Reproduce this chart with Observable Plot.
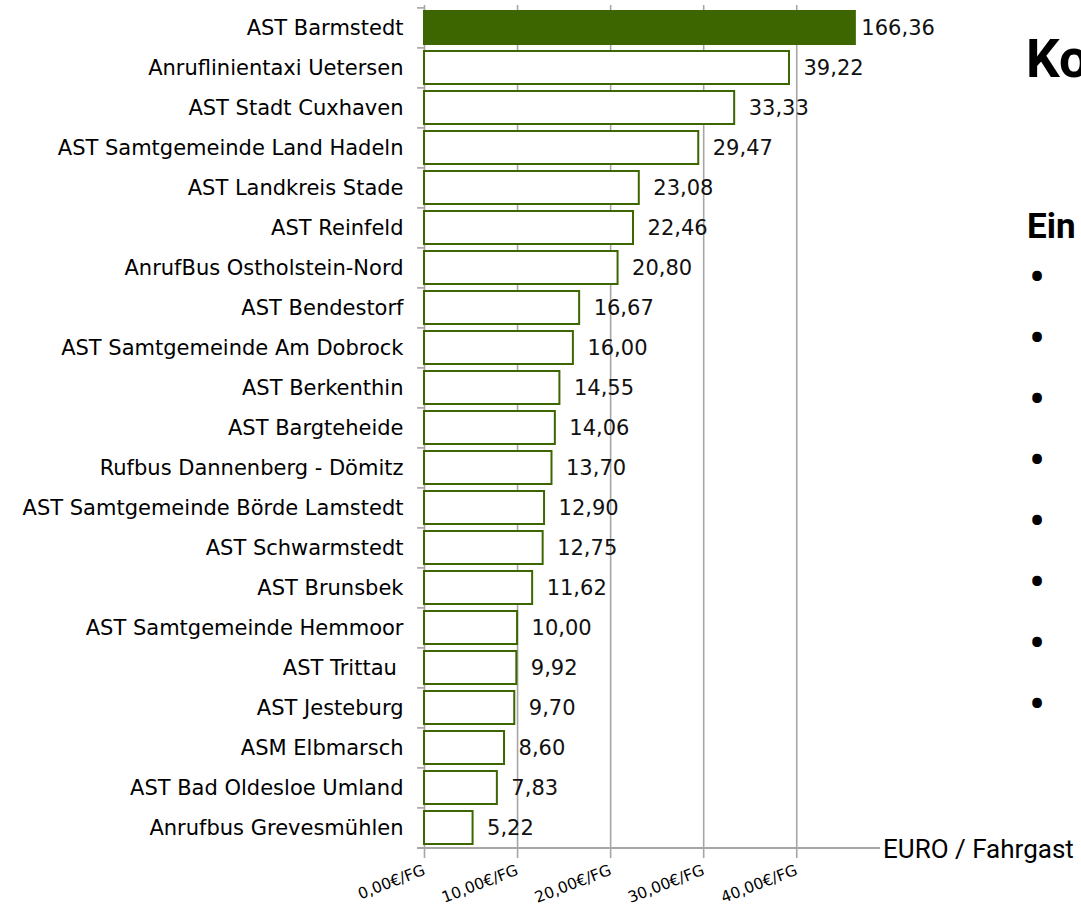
<!DOCTYPE html>
<html>
<head>
<meta charset="utf-8">
<script src="https://cdn.jsdelivr.net/npm/d3@7"></script>
<script src="https://cdn.jsdelivr.net/npm/@observablehq/plot@0.6"></script>
<style>
  html, body { margin: 0; padding: 0; background: #fff; width: 1081px; height: 908px; overflow: hidden; }
  #chart { position: absolute; left: 0; top: 0; }
  .ov { position: absolute; font-family: Roboto, "Noto Sans", sans-serif; color: #000; white-space: nowrap; line-height: 1; }
  #t1 { left: 1026px; top: 33px; font-size: 53px; font-weight: 700; }
  #t2 { left: 1027px; top: 209px; font-size: 35px; font-weight: 700; }
  #bul { left: 1029px; top: 247px; font-size: 48px; line-height: 61px; }
  #unit { left: 883px; top: 836px; font-size: 26px; }
</style>
</head>
<body>
<div id="chart"></div>
<div class="ov" id="t1">Ko</div>
<div class="ov" id="t2">Ein</div>
<div class="ov" id="bul">•<br>•<br>•<br>•<br>•<br>•<br>•<br>•</div>
<div class="ov" id="unit">EURO / Fahrgast</div>
<script>
// ---- data ----
const names = [
  "AST Barmstedt",
  "Anruflinientaxi Uetersen",
  "AST Stadt Cuxhaven",
  "AST Samtgemeinde Land Hadeln",
  "AST Landkreis Stade",
  "AST Reinfeld",
  "AnrufBus Ostholstein-Nord",
  "AST Bendestorf",
  "AST Samtgemeinde Am Dobrock",
  "AST Berkenthin",
  "AST Bargteheide",
  "Rufbus Dannenberg - Dömitz",
  "AST Samtgemeinde Börde Lamstedt",
  "AST Schwarmstedt",
  "AST Brunsbek",
  "AST Samtgemeinde Hemmoor",
  "AST Trittau\u00a0",
  "AST Jesteburg",
  "ASM Elbmarsch",
  "AST Bad Oldesloe Umland",
  "Anrufbus Grevesmühlen"
];
const values = [166.36, 39.22, 33.33, 29.47, 23.08, 22.46, 20.80, 16.67, 16.00, 14.55, 14.06,
  13.70, 12.90, 12.75, 11.62, 10.00, 9.92, 9.70, 8.60, 7.83, 5.22];
const xTicks = [0, 10, 20, 30, 40];
const xMax = 49;        // end of the drawn axis
const axisBreak = 46.3; // the out-of-range bar is cut here

// ---- layout ----
const W = 1081, H = 908, mt = 5, mb = 58, ml = 424, mr = 201;
const step = (H - mt - mb) / names.length;
const green = "#3d6600", gray = "#a6a6a6";
const fmt = v => v.toFixed(2).replace(".", ",");

const rows = names.map((name, i) => ({name, value: values[i], shown: Math.min(values[i], axisBreak), i}));
const capped = rows.filter(d => d.value > axisBreak);
const normal = rows.filter(d => d.value <= axisBreak);

const chart = Plot.plot({
  width: W, height: H,
  marginTop: mt, marginBottom: mb, marginLeft: ml, marginRight: mr,
  style: {fontFamily: "'DejaVu Sans', Verdana, sans-serif", color: "#000", background: "transparent"},
  x: {domain: [0, xMax]},
  y: {domain: names, paddingInner: 0.17, paddingOuter: 0.085},
  marks: [
    Plot.ruleX(xTicks, {stroke: gray, strokeWidth: 1.6, insetBottom: -8}),
    Plot.ruleY(names, {y: d => d, x1: 0, x2: 0, insetLeft: -7, dy: -step / 2, stroke: gray, strokeWidth: 1.6}),
    Plot.ruleY([names[names.length - 1]], {y: d => d, x1: 0, x2: xMax, insetLeft: -7, dy: step / 2, stroke: gray, strokeWidth: 2}),
    Plot.barX(normal, {x: "shown", y: "name", fill: "white", stroke: green, strokeWidth: 2}),
    Plot.barX(capped, {x: "shown", y: "name", fill: green, stroke: green, strokeWidth: 2}),
    Plot.text(normal, {x: "shown", y: "name", text: d => fmt(d.value), textAnchor: "start", dx: 14, fontSize: 21, fill: "#111"}),
    Plot.text(capped, {x: "shown", y: "name", text: d => fmt(d.value), textAnchor: "start", dx: 6, fontSize: 21, fill: "#111"}),
    Plot.axisY({tickSize: 0, tickPadding: 21, fontSize: 21, label: null}),
    Plot.axisX({ticks: xTicks, tickSize: 0, tickPadding: 19, tickRotate: -21, fontSize: 15.5, label: null,
      tickFormat: d => fmt(d) + "€/FG"})
  ]
});
document.getElementById("chart").appendChild(chart);
</script>
</body>
</html>
